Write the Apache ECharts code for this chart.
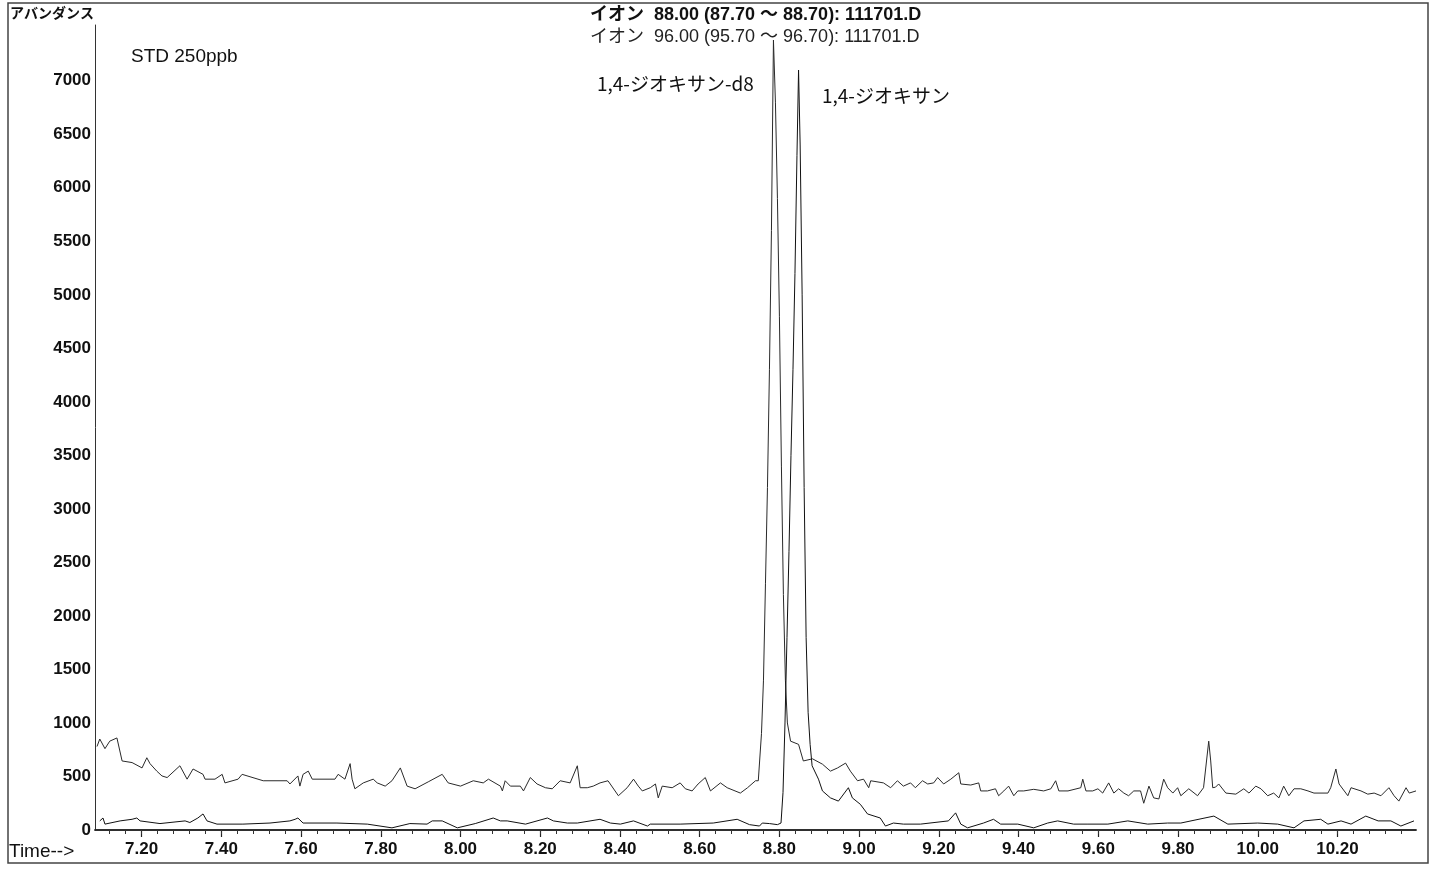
<!DOCTYPE html>
<html>
<head>
<meta charset="utf-8">
<script src="https://cdn.jsdelivr.net/npm/echarts@6/dist/echarts.min.js"></script>
<style>
html,body{margin:0;padding:0;background:#fff;}
#chart{width:1438px;height:871px;}
</style>
</head>
<body>
<div id="chart"></div>
<script>
// ---- data (retention time [min], abundance) ----
const timesA = [7.088,7.095,7.108,7.120,7.138,7.151,7.176,7.201,7.213,7.221,
7.238,7.251,7.264,7.296,7.314,7.329,7.339,7.354,7.359,7.384,
7.402,7.409,7.442,7.452,7.505,7.565,7.572,7.592,7.597,7.605,
7.618,7.628,7.685,7.693,7.710,7.723,7.728,7.735,7.756,7.781,
7.791,7.811,7.828,7.849,7.866,7.886,7.919,7.954,7.969,8.000,
8.032,8.057,8.070,8.100,8.105,8.112,8.125,8.150,8.158,8.175,
8.192,8.213,8.230,8.250,8.275,8.293,8.300,8.318,8.333,8.350,
8.370,8.396,8.418,8.434,8.446,8.456,8.476,8.489,8.496,8.506,
8.531,8.551,8.564,8.581,8.596,8.614,8.627,8.652,8.669,8.702,
8.720,8.740,8.747,8.755,8.760,8.765,8.770,8.775,8.780,8.785,
8.790,8.795,8.800,8.805,8.810,8.815,8.820,8.828,8.848,8.860,
8.883,8.908,8.928,8.946,8.966,8.978,8.996,9.011,9.024,9.029,
9.061,9.079,9.096,9.111,9.129,9.141,9.159,9.172,9.187,9.197,
9.212,9.230,9.250,9.255,9.280,9.300,9.305,9.322,9.342,9.350,
9.363,9.375,9.388,9.398,9.413,9.438,9.463,9.481,9.493,9.501,
9.524,9.556,9.561,9.569,9.586,9.599,9.611,9.626,9.639,9.651,
9.664,9.676,9.689,9.706,9.714,9.727,9.739,9.752,9.764,9.774,
9.787,9.799,9.807,9.827,9.849,9.864,9.877,9.882,9.887,9.894,
9.902,9.920,9.945,9.965,9.978,9.995,10.008,10.025,10.040,10.053,
10.065,10.078,10.091,10.108,10.126,10.141,10.176,10.183,10.196,10.204,
10.226,10.234,10.259,10.276,10.292,10.309,10.329,10.342,10.354,10.372,
10.380,10.397];
const valuesA = [780,850,760,830,860,645,630,580,675,620,
550,505,490,600,475,570,550,520,475,475,
520,440,475,520,460,460,430,505,410,520,
550,475,475,520,475,620,475,385,440,475,
440,410,460,580,410,385,450,520,440,410,
460,440,475,410,365,460,410,410,365,490,
430,395,385,460,440,600,395,395,410,440,
460,320,395,475,410,365,395,430,300,410,
395,440,385,365,430,490,365,440,395,345,
395,460,460,900,1400,2300,3200,4300,5600,7380,
6800,5900,4800,3400,2200,1400,1000,830,800,645,
665,615,550,580,625,550,460,475,395,460,
440,395,460,410,440,395,460,430,440,490,
430,475,535,430,420,440,365,365,385,320,
365,410,320,365,365,380,365,385,460,365,
365,395,475,365,365,385,345,440,345,385,
345,320,365,365,250,410,300,290,475,395,
345,395,320,385,320,395,830,645,395,400,
430,345,335,385,345,410,385,320,345,300,
410,320,385,385,365,345,345,395,570,430,
320,395,365,335,345,320,395,320,270,395,
345,365];

const timesB = [7.095,7.103,7.108,7.146,7.176,7.188,7.196,7.246,7.309,7.321,
7.341,7.354,7.364,7.389,7.454,7.522,7.572,7.585,7.592,7.605,
7.690,7.766,7.828,7.873,7.916,7.929,7.954,7.992,8.037,8.082,
8.100,8.117,8.163,8.218,8.233,8.268,8.293,8.350,8.376,8.401,
8.434,8.469,8.476,8.551,8.634,8.694,8.725,8.750,8.757,8.775,
8.795,8.804,8.809,8.814,8.819,8.824,8.829,8.834,8.839,8.844,
8.848,8.852,8.857,8.862,8.867,8.872,8.877,8.882,8.898,8.908,
8.928,8.948,8.973,8.983,9.003,9.021,9.053,9.066,9.086,9.111,
9.154,9.224,9.242,9.255,9.272,9.312,9.337,9.355,9.398,9.438,
9.473,9.498,9.538,9.574,9.624,9.674,9.724,9.774,9.807,9.890,
9.925,10.000,10.050,10.091,10.116,10.158,10.176,10.209,10.234,10.271,
10.302,10.334,10.359,10.392];
const valuesB = [85,112,55,85,100,112,85,60,85,70,
112,150,85,55,55,65,85,100,112,65,
65,55,20,60,55,85,85,20,60,112,
85,85,55,112,85,65,65,100,65,55,
85,37,55,55,65,100,50,37,65,60,
50,65,350,1000,1800,2600,3500,4300,5200,6300,
7100,6400,5000,3200,1800,1100,800,600,475,365,
300,270,395,300,240,150,112,37,65,55,
55,85,160,55,20,65,100,55,55,20,
65,85,55,55,55,85,55,65,65,130,
55,65,55,20,85,100,55,85,55,130,
85,85,37,85];

const xTickLabels = [7.20,7.40,7.60,7.80,8.00,8.20,8.40,8.60,8.80,9.00,9.20,9.40,9.60,9.80,10.00,10.20];
const yTickLabels = [0,500,1000,1500,2000,2500,3000,3500,4000,4500,5000,5500,6000,6500,7000];
const xMin = 7.083, xMax = 10.397, yMax = 7521;

// minor ticks: 5 divisions per 0.20 label step
const minorTicks = [];
for (let v = 7.12; v <= 10.39; v += 0.04) minorTicks.push(Math.round(v * 100) / 100);

const pairs = (t, v) => t.map((x, i) => [x, v[i]]);

const chart = echarts.init(document.getElementById('chart'), null, {renderer: 'canvas'});
const numFont = '"Liberation Sans", "Noto Sans CJK JP", sans-serif';
const jpFont = '"Noto Sans CJK JP", "Liberation Sans", sans-serif';

chart.setOption({
  animation: false,
  backgroundColor: '#fff',
  grid: {left: 95, right: 22, top: 25, bottom: 41, containLabel: false},
  xAxis: [{
    type: 'value', min: xMin, max: xMax, position: 'bottom',
    splitLine: {show: false},
    axisLine: {show: true, onZero: false, lineStyle: {color: '#222', width: 1.5}},
    axisTick: {show: true, customValues: xTickLabels, length: 7, lineStyle: {color: '#222', width: 1.2}},
    axisLabel: {customValues: xTickLabels, formatter: v => v.toFixed(2), fontSize: 17, fontWeight: 'bold',
      color: '#111', margin: 11, fontFamily: numFont}
  }, {
    type: 'value', min: xMin, max: xMax, position: 'bottom', offset: 0,
    splitLine: {show: false},
    axisLine: {show: true, onZero: false, lineStyle: {color: '#222', width: 1.5}},
    axisTick: {show: true, customValues: minorTicks, length: 4, lineStyle: {color: '#333', width: 1}},
    axisLabel: {show: true, customValues: [], formatter: () => ''}
  }],
  yAxis: {
    type: 'value', min: 0, max: yMax,
    splitLine: {show: false},
    axisLine: {show: true, lineStyle: {color: '#333', width: 1}},
    axisTick: {show: false},
    axisLabel: {customValues: yTickLabels, formatter: v => String(v), fontSize: 17, fontWeight: 'bold',
      color: '#111', margin: 4, fontFamily: numFont}
  },
  series: [{
    name: 'イオン 96.00', type: 'line', xAxisIndex: 0, data: pairs(timesA, valuesA),
    showSymbol: false, symbol: 'none', lineStyle: {color: '#2a2a2a', width: 1}, z: 3
  }, {
    name: 'イオン 88.00', type: 'line', xAxisIndex: 0, data: pairs(timesB, valuesB),
    showSymbol: false, symbol: 'none', lineStyle: {color: '#111', width: 1}, z: 4
  }],
  graphic: [
    {type: 'rect', shape: {x: 8, y: 3, width: 1420, height: 860}, style: {fill: 'none', stroke: '#444', lineWidth: 1.5}, silent: true},
    {type: 'text', left: 10, top: 6, style: {text: 'アバンダンス', font: 'bold 14px ' + jpFont, fill: '#111'}},
    {type: 'text', left: 131, top: 47, style: {text: 'STD 250ppb', font: '19px ' + numFont, fill: '#111'}},
    {type: 'text', left: 590, top: 6, style: {text: 'イオン  88.00 (87.70 ～ 88.70): 111701.D', font: 'bold 18px ' + numFont, fill: '#111'}},
    {type: 'text', left: 590, top: 28, style: {text: 'イオン  96.00 (95.70 ～ 96.70): 111701.D', font: '18px ' + numFont, fill: '#222'}},
    {type: 'text', left: 597, top: 74, style: {text: '1,4-ジオキサン-d8', font: '19px ' + jpFont, fill: '#111'}},
    {type: 'text', left: 822, top: 86, style: {text: '1,4-ジオキサン', font: '19px ' + jpFont, fill: '#111'}},
    {type: 'text', left: 9, top: 842, style: {text: 'Time-->', font: '19px ' + numFont, fill: '#111'}}
  ]
});
</script>
</body>
</html>
